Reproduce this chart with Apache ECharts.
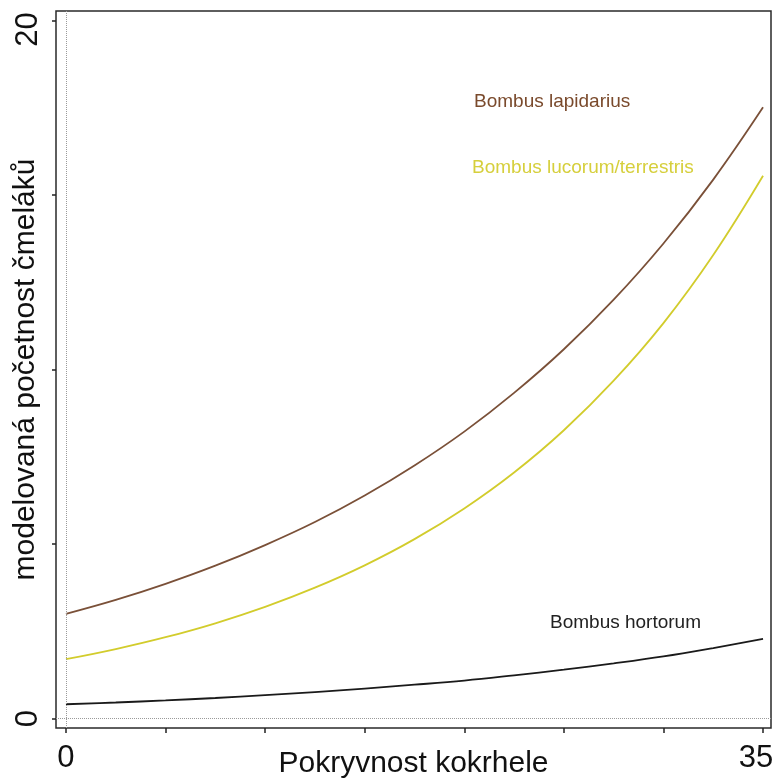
<!DOCTYPE html>
<html><head><meta charset="utf-8">
<script src="https://cdn.jsdelivr.net/npm/echarts@6/dist/echarts.min.js"></script>
<style>html,body{margin:0;padding:0;background:#fff}#c{width:775px;height:778px}</style>
</head><body><div id="c"></div>
<script>
// ---- data ----
const coverage   = [0, 2.5, 5, 7.5, 10, 12.5, 15, 17.5, 20, 22.5, 25, 27.5, 30, 32.5, 35];
const lapidarius = [3.00, 3.40, 3.86, 4.38, 4.97, 5.63, 6.39, 7.25, 8.22, 9.33, 10.58, 12.00, 13.61, 15.44, 17.51];
const lucorum    = [1.70, 1.99, 2.33, 2.73, 3.20, 3.75, 4.39, 5.14, 6.02, 7.05, 8.26, 9.68, 11.33, 13.28, 15.55];
const hortorum   = [0.41, 0.46, 0.52, 0.59, 0.67, 0.76, 0.86, 0.97, 1.09, 1.24, 1.40, 1.58, 1.78, 2.02, 2.28];
const seriesNames = ['Bombus lapidarius', 'Bombus lucorum/terrestris', 'Bombus hortorum'];
const xTickValues = [0, 5, 10, 15, 20, 25, 30, 35];
const xLabelValues = [0, 35];
const yTickValues = [0, 5, 10, 15, 20];
const yLabelValues = [0, 20];
const xTitle = 'Pokryvnost kokrhele';
const yTitle = 'modelovaná početnost čmeláků';

const FONT = "'Liberation Sans', Arial, sans-serif";
const pairs = (ys) => coverage.map((x, i) => [x, ys[i]]);

const chart = echarts.init(document.getElementById('c'), null, {renderer: 'canvas'});
chart.setOption({
  animation: false,
  backgroundColor: '#fff',
  grid: {left: 56, right: 4, top: 11, bottom: 50, containLabel: false, outerBoundsMode: 'none',
         show: true, borderColor: '#2a2a2a', borderWidth: 1.5, backgroundColor: 'transparent'},
  xAxis: {
    type: 'value', min: -0.5, max: 35.4,
    axisLine: {show: false, onZero: false},
    splitLine: {show: false},
    axisTick: {show: true, customValues: xTickValues, length: 5, lineStyle: {color: '#222', width: 1.5}},
    axisLabel: {
      customValues: xLabelValues, margin: 15, fontSize: 31, color: '#111', fontFamily: FONT,
      formatter: (v) => v === 35 ? '{r|35}' : String(v),
      rich: {r: {fontSize: 31, color: '#111', fontFamily: FONT, padding: [0, 14, 0, 0]}}
    },
    name: xTitle, nameLocation: 'middle', nameGap: 21, nameMoveOverlap: false,
    nameTextStyle: {fontSize: 30, color: '#111', fontFamily: FONT}
  },
  yAxis: {
    type: 'value', min: -0.27, max: 20.27,
    axisLine: {show: false, onZero: false},
    splitLine: {show: false},
    axisTick: {show: true, customValues: yTickValues, length: 4, lineStyle: {color: '#222', width: 1.5}},
    axisLabel: {
      customValues: yLabelValues, rotate: 90, margin: 12, fontSize: 31, color: '#111', fontFamily: FONT,
      formatter: (v) => v === 20 ? '{r|20}' : String(v),
      rich: {r: {fontSize: 31, color: '#111', fontFamily: FONT, padding: [0, 18, 0, 0]}}
    },
    name: yTitle, nameLocation: 'middle', nameGap: 15, nameRotate: 90, nameMoveOverlap: false,
    nameTextStyle: {fontSize: 30, color: '#111', fontFamily: FONT}
  },
  series: [
    {
      name: seriesNames[0], type: 'line', data: pairs(lapidarius), smooth: 0.4,
      showSymbol: false, lineStyle: {color: '#7a5038', width: 1.8},
      markLine: {
        silent: true, symbol: 'none', label: {show: false},
        lineStyle: {type: 'dotted', color: '#9a9a9a', width: 1},
        data: [{xAxis: 0}, {yAxis: 0}]
      }
    },
    {
      name: seriesNames[1], type: 'line', data: pairs(lucorum), smooth: 0.4,
      showSymbol: false, lineStyle: {color: '#d2cc2c', width: 1.8}
    },
    {
      name: seriesNames[2], type: 'line', data: pairs(hortorum), smooth: 0.4,
      showSymbol: false, lineStyle: {color: '#1a1a1a', width: 1.8}
    }
  ],
  graphic: [
    {type: 'text', left: 474, top: 92, style: {text: seriesNames[0], fill: '#7a4a2c', font: '19px ' + FONT}},
    {type: 'text', left: 472, top: 158, style: {text: seriesNames[1], fill: '#d6cf3c', font: '19px ' + FONT}},
    {type: 'text', left: 550, top: 613, style: {text: seriesNames[2], fill: '#222', font: '19px ' + FONT}}
  ]
});
</script>
</body></html>
